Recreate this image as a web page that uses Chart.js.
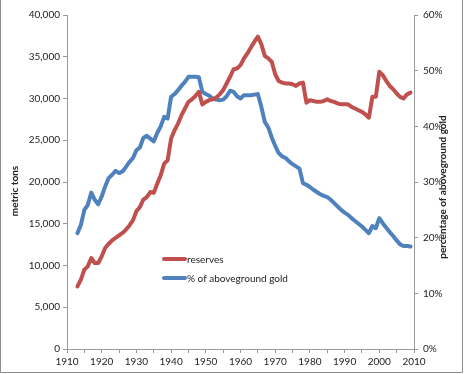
<!DOCTYPE html>
<html lang="en">
  <head>
    <meta charset="UTF-8" />
    <script src="https://cdn.jsdelivr.net/npm/chart.js@4/dist/chart.umd.min.js"></script>
    <title>Gold reserves</title>
    <style>
      html,
      body {
        margin: 0;
        padding: 0;
        background-color: #fff;
      }

      canvas {
        display: block;
      }
    </style>
  </head>
  <body>
    <canvas id="myChart" width="464" height="374"></canvas>
    <script>
      // annual values, 1913 - 2009
      const firstYear = 1913;

      // metric tons (thousands)
      const reserves = [
        7.5, 8.3, 9.5, 9.9, 10.9, 10.3, 10.3, 11.1, 12.1, 12.6,
        13.0, 13.3, 13.6, 13.9, 14.3, 14.8, 15.4, 16.5, 17.0, 17.9,
        18.2, 18.8, 18.7, 19.8, 20.8, 22.2, 22.6, 25.2, 26.2, 27.0,
        28.0, 28.8, 29.6, 29.9, 30.3, 30.8, 29.3, 29.6, 29.8, 29.9,
        30.1, 30.5, 31.0, 31.8, 32.6, 33.5, 33.6, 34.0, 34.8, 35.4,
        36.1, 36.8, 37.4, 36.5, 35.1, 34.8, 34.4, 32.9, 32.1, 31.9,
        31.8, 31.8, 31.7, 31.5, 31.8, 31.9, 29.5, 29.8, 29.7, 29.6,
        29.6, 29.7, 29.9, 29.7, 29.6, 29.4, 29.3, 29.3, 29.3, 29.0,
        28.8, 28.6, 28.4, 28.1, 27.7, 30.2, 30.2, 33.2, 32.8, 32.1,
        31.5, 31.1, 30.6, 30.2, 30.0, 30.5, 30.7
      ];

      // % of aboveground gold
      const shareAbove = [
        20.8, 22.3, 25.0, 25.9, 28.1, 26.8, 26.0, 27.4, 29.2, 30.7,
        31.3, 32.0, 31.6, 31.9, 32.7, 33.6, 34.3, 35.7, 36.2, 37.9,
        38.3, 37.8, 37.3, 38.8, 40.0, 41.7, 41.4, 45.3, 45.8, 46.5,
        47.3, 48.0, 48.9, 48.9, 48.9, 48.8, 46.2, 45.8, 45.5, 45.0,
        44.8, 44.7, 44.8, 45.4, 46.4, 46.2, 45.4, 45.0, 45.6, 45.6,
        45.6, 45.7, 45.8, 43.5, 40.8, 39.8, 38.0, 36.5, 35.2, 34.6,
        34.3, 33.7, 33.2, 32.8, 32.4, 29.8, 29.5, 29.1, 28.6, 28.2,
        27.8, 27.5, 27.3, 26.8, 26.2, 25.6, 25.0, 24.5, 24.1, 23.5,
        23.0, 22.5, 22.0, 21.4, 20.8, 22.1, 21.7, 23.5, 22.6, 21.8,
        21.0, 20.3, 19.5, 18.8, 18.5, 18.5, 18.4
      ];

      const years = reserves.map((v, i) => firstYear + i);
      const seriesNames = ["reserves", "% of aboveground gold"];
      const seriesColors = ["#c0504d", "#4f81bd"];
      const leftTitle = "metric tons";
      const rightTitle = "percentage of aboveground gold";

      const axisColor = "#9a9a9a";
      const textColor = "#222";
      const font = { family: "Lato", size: 10 };

      Chart.defaults.font.family = "Lato";
      Chart.defaults.color = textColor;

      // legend drawn inside the plot, like the original
      const innerLegend = {
        id: "innerLegend",
        afterDatasetsDraw(chart) {
          const ctx = chart.ctx;
          ctx.save();
          ctx.font = "10px Lato";
          ctx.textBaseline = "middle";
          seriesNames.forEach((name, i) => {
            const y = 259 + i * 19;
            ctx.strokeStyle = seriesColors[i];
            ctx.lineWidth = 4;
            ctx.lineCap = "round";
            ctx.beginPath();
            ctx.moveTo(164, y);
            ctx.lineTo(185, y);
            ctx.stroke();
            ctx.fillStyle = textColor;
            ctx.fillText(name, 187, y + 0.5);
          });
          ctx.restore();
        },
      };

      // both axis titles read bottom-to-top
      const axisTitles = {
        id: "axisTitles",
        afterDraw(chart) {
          const ctx = chart.ctx;
          const drawTitle = (text, x, y) => {
            ctx.save();
            ctx.font = "bold 10px Lato";
            ctx.fillStyle = textColor;
            ctx.textAlign = "center";
            ctx.textBaseline = "middle";
            ctx.translate(x, y);
            ctx.rotate(-Math.PI / 2);
            ctx.fillText(text, 0, 0);
            ctx.restore();
          };
          drawTitle(leftTitle, 15, 191);
          drawTitle(rightTitle, 443, 187);
        },
      };

      const frame = {
        id: "frame",
        afterDraw(chart) {
          const ctx = chart.ctx;
          ctx.save();
          ctx.strokeStyle = "#8c8c8c";
          ctx.lineWidth = 1;
          ctx.beginPath();
          ctx.moveTo(0.5, 0);
          ctx.lineTo(0.5, 372.5);
          ctx.lineTo(462.5, 372.5);
          ctx.lineTo(462.5, 0);
          ctx.stroke();
          ctx.restore();
        },
      };

      const ctx = document.getElementById("myChart").getContext("2d");
      const myChart = new Chart(ctx, {
        type: "line",
        data: {
          datasets: [
            {
              label: seriesNames[0],
              data: years.map((y, i) => ({ x: y, y: reserves[i] * 1000 })),
              borderColor: seriesColors[0],
              yAxisID: "y",
            },
            {
              label: seriesNames[1],
              data: years.map((y, i) => ({ x: y, y: shareAbove[i] })),
              borderColor: seriesColors[1],
              yAxisID: "y2",
            },
          ],
        },
        options: {
          responsive: false,
          animation: false,
          layout: { padding: { top: 15, left: 0, right: 0, bottom: 0 } },
          elements: {
            point: { radius: 0 },
            line: {
              borderWidth: 4,
              tension: 0,
              borderJoinStyle: "round",
              borderCapStyle: "round",
            },
          },
          plugins: {
            legend: { display: false },
            tooltip: { enabled: false },
          },
          scales: {
            x: {
              type: "linear",
              min: 1910,
              max: 2010,
              border: { color: axisColor },
              grid: { drawOnChartArea: false, tickLength: 4, color: axisColor },
              ticks: {
                stepSize: 5,
                autoSkip: false,
                maxRotation: 0,
                padding: 3,
                font: font,
                callback: (v) => (v % 10 === 0 ? String(v) : ""),
              },
              afterFit: (s) => { s.height = 25; },
            },
            y: {
              position: "left",
              min: 0,
              max: 40000,
              border: { color: axisColor },
              grid: { drawOnChartArea: false, tickLength: 4, color: axisColor },
              ticks: {
                stepSize: 5000,
                padding: 3,
                font: font,
                callback: (v) => v.toLocaleString("en-US"),
              },
              afterFit: (s) => { s.width = 67; },
            },
            y2: {
              position: "right",
              min: 0,
              max: 60,
              border: { color: axisColor },
              grid: { drawOnChartArea: false, tickLength: 4, color: axisColor },
              ticks: {
                stepSize: 10,
                padding: 5,
                font: font,
                callback: (v) => v + "%",
              },
              afterFit: (s) => { s.width = 50; },
            },
          },
        },
        plugins: [innerLegend, axisTitles, frame],
      });
    </script>
  </body>
</html>
